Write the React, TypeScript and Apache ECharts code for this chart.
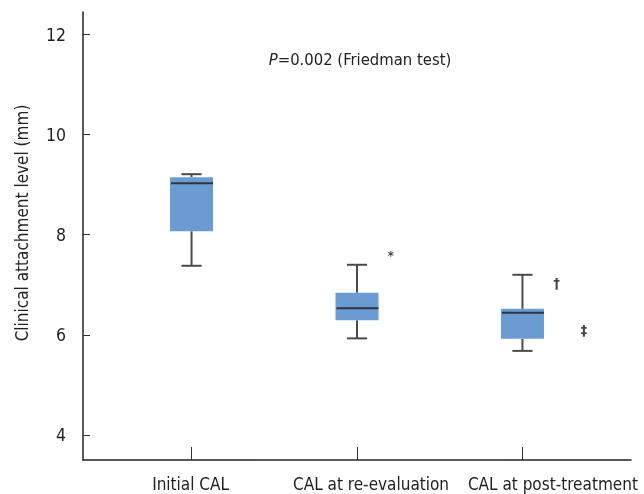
import React, { useEffect, useRef } from 'react';
import * as echarts from 'echarts';

const categories = ['Initial CAL', 'CAL at re-evaluation', 'CAL at post-treatment'];
const categoryX = [1, 2, 3];
const labelX = [0.994, 2.085, 3.184];
const lowerWhisker = [7.38, 5.93, 5.68];
const q1 = [8.07, 6.29, 5.92];
const median = [9.03, 6.53, 6.44];
const q3 = [9.15, 6.84, 6.52];
const upperWhisker = [9.21, 7.4, 7.2];
const yTicks = [4, 6, 8, 10, 12];
const markerSymbols = ['*', '†', '‡'];
const markerX = [2.205, 3.207, 3.372];
const markerY = [7.58, 7.04, 6.1];

const FONT = "'Liberation Sans Narrow', 'DejaVu Sans Condensed', 'Arial Narrow', sans-serif";
const X_MIN = 0.344;
const X_MAX = 3.656;

export default function App() {
  const ref = useRef<HTMLDivElement>(null);
  useEffect(() => {
    if (!ref.current) return;
    const chart = echarts.init(ref.current, undefined, { renderer: 'svg' });
    const boxData = categoryX.map((x, i) => [x, lowerWhisker[i], q1[i], median[i], q3[i], upperWhisker[i]]);
    const markerData = markerX.map((x, i) => [x, markerY[i]]);
    const nearestLabel = (v: number) => {
      let best = 0;
      labelX.forEach((lx, i) => {
        if (Math.abs(lx - v) < Math.abs(labelX[best] - v)) best = i;
      });
      return categories[best];
    };
    chart.setOption({
      animation: false,
      textStyle: { fontFamily: FONT },
      grid: { left: 83, right: 13, top: 12, bottom: 34 },
      xAxis: [
        {
          type: 'value',
          min: X_MIN,
          max: X_MAX,
          splitLine: { show: false },
          axisLine: { show: true, onZero: false, lineStyle: { color: '#222', width: 1.5 } },
          axisTick: { show: true, inside: true, length: 13, customValues: categoryX, lineStyle: { color: '#333', width: 1 } },
          axisLabel: { show: false },
        },
        {
          type: 'value',
          position: 'bottom',
          min: X_MIN,
          max: X_MAX,
          splitLine: { show: false },
          axisLine: { show: false },
          axisTick: { show: false },
          axisLabel: {
            show: true,
            customValues: labelX,
            margin: 15,
            fontSize: 17,
            color: '#222',
            fontFamily: FONT,
            showMinLabel: true,
            showMaxLabel: true,
            formatter: (v: number) => nearestLabel(v),
          },
        },
      ],
      yAxis: {
        type: 'value',
        min: 3.5,
        max: 12.45,
        splitLine: { show: false },
        axisLine: { show: true, onZero: false, lineStyle: { color: '#222', width: 1.5 } },
        axisTick: { show: true, inside: true, length: 7, customValues: yTicks, lineStyle: { color: '#333', width: 1 } },
        axisLabel: { show: true, customValues: yTicks, margin: 17, fontSize: 17.5, color: '#222', fontFamily: FONT },
      },
      graphic: [
        {
          type: 'text',
          x: 22,
          y: 223,
          rotation: Math.PI / 2,
          style: {
            text: 'Clinical attachment level (mm)',
            fontSize: 17,
            fontFamily: FONT,
            fill: '#222',
            align: 'center',
            verticalAlign: 'middle',
          },
        },
        {
          type: 'text',
          x: 360,
          y: 59,
          style: {
            text: '{i|P}=0.002 (Friedman test)',
            fontSize: 16.5,
            fontFamily: FONT,
            fill: '#222',
            align: 'center',
            verticalAlign: 'middle',
            rich: { i: { fontStyle: 'italic', fontSize: 16.5, fontFamily: FONT, fill: '#222' } },
          },
        },
      ],
      series: [
        {
          type: 'custom',
          xAxisIndex: 0,
          data: boxData,
          encode: { x: 0, y: [1, 2, 3, 4, 5] },
          renderItem: (params: any, api: any) => {
            const x = api.value(0);
            const pLow = api.coord([x, api.value(1)]);
            const pQ1 = api.coord([x, api.value(2)]);
            const pMed = api.coord([x, api.value(3)]);
            const pQ3 = api.coord([x, api.value(4)]);
            const pHigh = api.coord([x, api.value(5)]);
            const boxW = api.size([0.26, 0])[0];
            const capW = api.size([0.122, 0])[0];
            const cx = pMed[0];
            const whisk = { stroke: '#4a4a4a', lineWidth: 2 };
            return {
              type: 'group',
              children: [
                { type: 'line', shape: { x1: cx, y1: pLow[1], x2: cx, y2: pQ1[1] }, style: whisk },
                { type: 'line', shape: { x1: cx, y1: pQ3[1], x2: cx, y2: pHigh[1] }, style: whisk },
                { type: 'line', shape: { x1: cx - capW / 2, y1: pLow[1], x2: cx + capW / 2, y2: pLow[1] }, style: whisk },
                { type: 'line', shape: { x1: cx - capW / 2, y1: pHigh[1], x2: cx + capW / 2, y2: pHigh[1] }, style: whisk },
                {
                  type: 'rect',
                  shape: { x: cx - boxW / 2, y: pQ3[1], width: boxW, height: pQ1[1] - pQ3[1] },
                  style: { fill: '#6b9bd3', stroke: 'none' },
                },
                {
                  type: 'line',
                  shape: { x1: cx - boxW / 2 + 1, y1: pMed[1], x2: cx + boxW / 2, y2: pMed[1] },
                  style: { stroke: '#2e3440', lineWidth: 2 },
                },
              ],
            };
          },
        },
        {
          type: 'custom',
          xAxisIndex: 0,
          data: markerData,
          encode: { x: 0, y: 1 },
          renderItem: (params: any, api: any) => {
            const p = api.coord([api.value(0), api.value(1)]);
            const i = params.dataIndex;
            return {
              type: 'text',
              x: p[0],
              y: p[1],
              style: {
                text: markerSymbols[i],
                fontSize: i === 0 ? 13 : 14,
                fontFamily: FONT,
                fontWeight: 'bold',
                fill: '#444',
                align: 'center',
                verticalAlign: 'middle',
              },
            };
          },
        },
      ],
    });
    return () => chart.dispose();
  }, []);
  return <div ref={ref} style={{ position: 'fixed', left: 0, top: 0, width: 644, height: 494 }} />;
}
